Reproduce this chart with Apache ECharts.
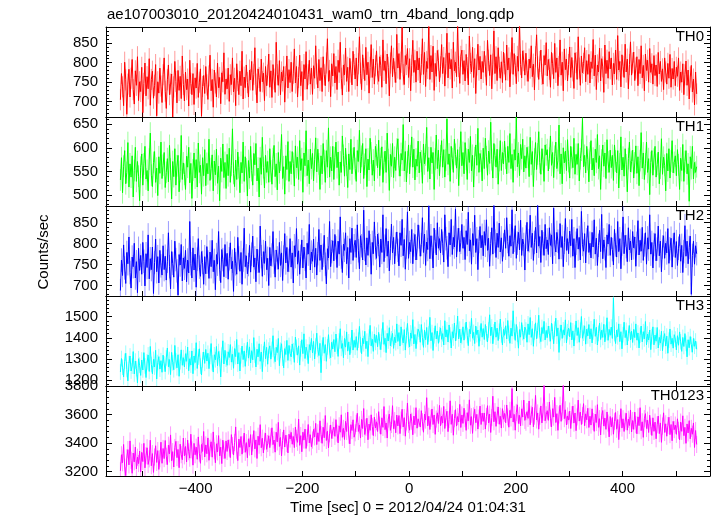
<!DOCTYPE html>
<html><head><meta charset="utf-8">
<script src="https://cdn.jsdelivr.net/npm/echarts@6/dist/echarts.min.js"></script>
<style>html,body{margin:0;padding:0;background:#fff}#c{width:717px;height:516px}</style>
</head><body><div id="c"></div>
<script>
const TITLE = 'ae107003010_20120424010431_wam0_trn_4band_long.qdp';
const X_NAME = 'Time [sec] 0 = 2012/04/24 01:04:31';
const Y_NAME = 'Counts/sec';
const PANEL_NAMES = ['TH0', 'TH1', 'TH2', 'TH3', 'TH0123'];
const T_START = -541;
const BIN = 2;

const TH0 = [
705,772,738,690,801,756,668,745,783,712,760,808,731,694,779,742,815,703,751,726,
788,672,747,799,715,764,733,810,691,757,778,709,742,795,664,751,722,786,740,698,
769,812,727,683,756,794,718,745,771,661,738,803,752,697,780,729,765,708,817,744,
702,776,731,758,689,806,747,718,772,693,761,735,798,711,750,784,663,739,767,721,
790,743,706,766,819,728,757,686,781,748,712,799,736,762,695,774,751,825,719,758,
733,786,701,769,744,812,725,760,690,797,754,718,778,741,829,707,763,736,794,749,
712,781,756,803,729,770,838,745,697,784,762,726,809,751,773,703,790,741,768,822,
737,779,711,795,758,724,852,769,742,805,718,776,753,790,699,764,817,735,782,749,
801,726,773,835,748,790,712,762,819,741,777,703,795,758,828,732,769,806,745,786,
719,792,760,843,771,735,808,754,787,726,815,769,741,799,861,752,780,713,797,766,
823,748,790,731,806,775,852,760,717,794,769,837,752,788,726,811,776,743,829,795,
758,812,740,797,866,773,731,820,785,754,839,769,801,722,788,846,762,809,745,792,
830,771,752,815,793,737,858,780,804,746,822,788,715,799,843,764,811,776,749,872,
786,823,757,801,890,769,744,818,795,836,762,810,728,793,857,775,806,750,829,781,
812,748,795,861,770,826,739,803,785,898,757,818,776,842,729,798,765,831,806,751,
789,846,772,813,740,797,875,761,825,784,808,735,852,779,801,764,894,790,747,816,
832,770,805,753,821,787,743,868,798,776,839,762,810,721,794,847,781,816,758,803,
775,829,791,742,857,806,767,820,733,796,881,772,815,754,838,788,760,802,749,827,
797,755,845,781,812,738,799,864,770,823,792,746,816,778,901,795,761,830,805,768,
824,779,752,809,786,843,764,796,730,815,871,789,757,803,832,770,745,818,794,851,
766,808,783,737,826,797,759,849,775,812,741,790,858,768,801,728,835,782,809,753,
795,840,762,813,779,734,825,800,757,866,786,742,817,774,798,838,751,805,770,821,
748,802,785,859,766,819,731,794,776,837,753,810,789,724,845,772,806,760,828,784,
812,743,798,771,832,757,869,781,803,738,820,791,762,847,776,809,733,795,853,768,
799,827,754,786,815,741,808,772,843,761,793,728,822,780,806,750,836,775,797,745,
818,767,794,739,826,771,803,752,784,731,812,776,745,798,760,821,737,785,758,803,
741,788,765,812,729,776,750,797,718,769,804,742,781,707,763,793,725,758,692,776,
720
];
const TH1 = [
532,579,505,561,594,524,548,611,517,566,538,583,496,552,601,529,571,540,488,559,
587,521,566,603,534,552,509,576,631,542,518,569,592,527,557,499,581,546,612,535,
563,590,516,548,577,528,605,555,492,571,539,598,521,562,584,507,550,626,533,568,
544,512,582,559,601,526,567,493,553,589,536,575,517,610,548,563,502,579,541,596,
520,567,545,618,531,556,585,509,572,543,597,525,561,488,578,550,608,537,569,514,
586,541,599,527,563,640,546,518,574,533,591,558,505,569,547,612,529,581,555,498,
573,536,603,552,521,588,564,609,530,557,496,579,544,622,558,515,584,548,571,527,
598,551,523,577,605,539,566,511,590,547,574,628,535,560,502,583,554,613,529,571,
545,592,567,519,604,558,580,533,615,552,577,506,589,562,636,541,574,524,597,556,
588,530,575,621,549,597,566,512,583,545,609,573,527,594,559,642,538,580,551,603,
533,579,612,558,591,521,570,548,625,584,540,599,563,516,587,554,618,545,577,601,
556,529,594,571,637,547,582,609,535,565,598,518,576,553,620,589,542,574,530,603,
585,558,616,541,577,602,527,569,593,548,631,575,510,586,561,609,537,580,552,597,
619,563,540,588,574,649,551,592,528,570,606,545,583,623,559,597,532,576,561,614,
547,591,572,525,608,566,585,643,550,579,534,601,568,590,512,576,627,556,595,541,
583,615,559,596,538,574,661,565,587,529,603,577,548,618,586,557,596,520,579,634,
562,590,545,611,576,533,597,569,624,551,584,517,579,606,563,641,548,588,572,530,
599,556,620,581,542,593,567,654,575,536,609,584,559,597,523,573,615,552,590,566,
614,578,545,603,569,630,556,586,527,596,574,665,560,589,541,607,577,618,549,583,
557,601,580,539,622,565,592,518,576,611,554,587,634,569,544,598,575,529,606,585,
596,551,578,625,563,590,537,582,612,556,573,648,545,587,524,600,568,593,552,617,
571,536,603,579,558,620,544,586,565,609,530,577,595,662,560,584,547,603,575,528,
589,615,553,578,541,597,569,628,556,583,512,574,606,561,589,535,617,570,548,595,
558,584,531,606,572,547,594,515,566,623,553,580,540,598,564,507,577,612,549,571,
595,536,568,604,546,581,520,573,632,557,589,533,566,612,548,577,501,569,594,542,
576,603,538,565,591,524,557,619,544,580,563,509,588,551,598,536,572,615,547,569,
583,541,596,564,512,578,552,607,529,571,594,545,566,487,581,556,603,534,569,548,
560
];
const TH2 = [
688,761,724,797,742,705,779,752,816,731,694,768,745,801,718,757,683,789,736,772,
727,803,758,699,776,743,821,716,764,738,792,681,755,811,733,769,706,784,747,725,
795,738,770,713,758,826,745,692,781,753,720,806,762,735,677,774,749,798,711,766,
741,784,709,761,730,853,752,718,790,737,775,696,763,812,744,722,781,755,703,769,
728,793,756,717,780,745,808,733,760,690,774,751,829,739,707,786,762,721,798,746,
777,715,764,802,740,758,686,789,752,727,815,766,734,779,703,761,837,745,771,728,
750,796,732,775,818,744,766,709,787,758,731,842,769,722,781,753,806,738,765,700,
791,747,773,829,756,720,785,766,739,803,748,778,712,768,824,754,791,733,760,812,
744,778,706,795,769,836,751,783,727,770,809,742,792,763,718,801,775,846,737,780,
758,811,744,789,725,776,834,760,797,738,772,820,751,704,788,766,853,745,781,807,
759,822,790,743,806,775,864,768,731,799,784,826,752,791,718,812,779,837,760,795,
808,767,845,783,740,819,795,761,880,786,749,814,772,831,795,727,803,776,852,790,
765,823,798,744,811,779,869,757,794,836,770,806,735,789,847,778,815,752,799,828,
784,747,826,796,858,771,810,739,792,876,765,803,781,834,752,797,822,761,789,845,
816,770,798,862,779,823,748,804,786,891,764,819,791,742,837,805,773,850,789,812,
778,834,801,756,869,812,790,745,826,797,858,774,815,792,883,768,809,837,781,803,
846,789,815,762,831,798,875,783,809,751,824,796,868,779,812,738,805,841,790,820,
771,829,796,857,784,813,746,800,838,775,892,806,767,825,791,849,780,814,758,797,
833,789,862,805,770,819,794,881,776,808,843,765,801,827,785,856,772,811,798,737,
816,851,782,807,868,791,825,760,803,839,778,896,794,817,755,832,800,772,846,788,
809,774,838,796,821,752,885,799,780,827,806,763,848,791,817,745,803,860,784,812,
776,830,795,858,770,812,743,801,836,787,815,761,877,798,782,824,754,809,843,779,
801,766,827,792,857,775,813,748,796,832,781,870,764,809,788,743,821,799,846,772,
815,786,749,834,797,768,853,781,812,740,799,864,776,820,793,757,838,785,806,761,
829,790,816,746,801,855,773,808,782,839,760,797,826,751,814,787,869,775,803,742,
798,824,759,787,842,771,806,733,792,819,765,801,778,836,753,788,813,744,797,826,
767,805,748,789,822,758,796,731,781,843,770,806,752,791,818,679,772,806,751,795,
776
];
const TH3 = [
1238,1302,1261,1215,1289,1327,1250,1196,1278,1314,1243,1266,1335,1229,1290,1254,1187,1301,1270,1222,
1295,1248,1330,1267,1212,1286,1319,1241,1359,1274,1230,1298,1262,1341,1205,1283,1311,1252,1292,1237,
1318,1276,1240,1305,1352,1263,1297,1226,1331,1282,1249,1364,1291,1258,1320,1218,1287,1343,1270,1306,
1262,1325,1289,1356,1244,1301,1271,1338,1230,1314,1283,1377,1255,1309,1348,1266,1224,1296,1333,1279,
1345,1290,1327,1254,1312,1373,1281,1238,1320,1296,1359,1268,1335,1302,1215,1318,1386,1276,1341,1299,
1270,1334,1307,1368,1285,1322,1256,1349,1311,1392,1276,1330,1243,1315,1361,1297,1338,1265,1326,1379,
1304,1357,1281,1339,1296,1401,1318,1262,1346,1310,1372,1289,1333,1240,1324,1381,1301,1355,1275,1342,
1362,1299,1345,1410,1316,1287,1355,1330,1397,1268,1341,1372,1304,1258,1349,1321,1388,1293,1364,1326,
1310,1371,1339,1284,1403,1355,1318,1362,1271,1348,1391,1325,1419,1302,1356,1333,1278,1368,1342,1397,
1329,1383,1300,1361,1422,1345,1316,1374,1235,1352,1402,1327,1368,1289,1357,1415,1338,1306,1379,1347,
1392,1334,1418,1361,1312,1385,1443,1350,1373,1306,1397,1356,1428,1337,1381,1320,1364,1437,1342,1388,
1355,1406,1341,1389,1454,1367,1325,1398,1372,1431,1349,1384,1311,1403,1459,1362,1393,1336,1417,1378,
1412,1358,1426,1381,1344,1407,1473,1369,1398,1330,1421,1385,1448,1362,1395,1421,1350,1403,1377,1466,
1383,1425,1361,1452,1404,1376,1439,1342,1411,1468,1390,1357,1423,1398,1486,1371,1416,1349,1407,1441,
1428,1379,1463,1402,1355,1436,1391,1449,1368,1418,1497,1386,1425,1340,1410,1457,1395,1432,1374,1415,
1447,1393,1420,1366,1481,1404,1438,1380,1461,1413,1352,1429,1399,1470,1385,1423,1503,1395,1441,1376,
1406,1452,1389,1433,1475,1411,1363,1440,1419,1492,1398,1426,1373,1456,1415,1437,1360,1421,1468,1403,
1444,1392,1463,1419,1381,1437,1509,1410,1451,1372,1428,1475,1403,1446,1387,1431,1489,1414,1366,1440,
1412,1457,1395,1482,1421,1374,1446,1408,1528,1430,1388,1463,1417,1351,1439,1403,1472,1425,1394,1451,
1437,1379,1466,1415,1496,1402,1443,1360,1428,1471,1396,1434,1507,1411,1382,1449,1420,1478,1390,1435,
1401,1456,1419,1384,1469,1430,1372,1441,1493,1408,1447,1331,1425,1461,1397,1438,1413,1485,1376,1429,
1446,1405,1472,1390,1433,1361,1425,1480,1411,1448,1379,1436,1501,1398,1422,1457,1370,1441,1409,1463,
1395,1443,1376,1428,1488,1407,1450,1366,1421,1470,1392,1436,1402,1464,1381,1425,1495,1388,1440,1412,
1451,1397,1589,1420,1373,1437,1405,1466,1382,1429,1348,1415,1474,1401,1435,1366,1422,1458,1390,1431,
1378,1440,1401,1466,1389,1423,1352,1412,1456,1381,1429,1395,1477,1367,1418,1390,1437,1344,1406,1452,
1367,1413,1384,1449,1352,1402,1375,1431,1339,1396,1420,1361,1408,1327,1389,1442,1370,1398,1351,1415,
1394,1343,1410,1365,1428,1381,1336,1402,1359,1420,1374,1310,1391,1353,1406,1368,1332,1397,1360,1385,
1346
];
const TH0123 = [
3205,3318,3262,3390,3231,3172,3296,3354,3247,3415,3279,3188,3330,3268,3372,3219,3301,3256,3344,3198,
3335,3270,3398,3226,3311,3367,3250,3289,3420,3241,3326,3194,3302,3381,3264,3347,3215,3290,3406,3258,
3362,3291,3418,3307,3249,3385,3324,3457,3276,3340,3232,3369,3412,3298,3355,3227,3392,3318,3283,3435,
3310,3376,3267,3421,3339,3294,3462,3352,3245,3398,3318,3371,3286,3443,3329,3258,3390,3341,3481,3302,
3387,3325,3436,3279,3364,3409,3301,3478,3346,3262,3395,3338,3452,3310,3371,3256,3420,3349,3292,3415,
3341,3422,3365,3298,3459,3382,3316,3404,3513,3350,3277,3428,3369,3446,3322,3391,3470,3335,3403,3297,
3430,3372,3459,3316,3401,3487,3359,3422,3292,3448,3385,3529,3367,3434,3331,3413,3470,3356,3397,3451,
3368,3443,3507,3389,3421,3336,3476,3408,3545,3376,3439,3310,3418,3492,3372,3455,3397,3331,3462,3428,
3475,3392,3446,3368,3512,3433,3405,3568,3384,3452,3339,3476,3421,3498,3362,3437,3530,3401,3458,3374,
3421,3496,3443,3538,3389,3472,3411,3556,3460,3398,3511,3437,3593,3418,3483,3366,3465,3527,3432,3489,
3512,3447,3564,3469,3401,3521,3476,3598,3440,3503,3425,3552,3481,3617,3456,3394,3529,3488,3563,3441,
3472,3538,3609,3481,3527,3435,3566,3502,3642,3460,3511,3574,3423,3533,3489,3598,3517,3452,3581,3506,
3549,3481,3620,3526,3462,3577,3510,3656,3494,3541,3435,3568,3603,3489,3530,3662,3501,3557,3472,3596,
3520,3593,3466,3561,3637,3512,3578,3448,3549,3681,3531,3490,3604,3553,3458,3589,3527,3648,3504,3570,
3583,3512,3627,3549,3476,3603,3561,3718,3520,3588,3495,3574,3639,3530,3597,3461,3568,3612,3537,3664,
3521,3589,3540,3657,3502,3578,3623,3480,3564,3696,3531,3602,3455,3571,3634,3519,3586,3548,3671,3509,
3597,3538,3644,3571,3489,3613,3556,3703,3525,3585,3468,3590,3637,3543,3601,3498,3575,3659,3530,3610,
3552,3611,3498,3586,3662,3541,3603,3474,3579,3728,3549,3620,3517,3596,3653,3532,3588,3505,3641,3567,
3608,3542,3667,3583,3511,3629,3576,3782,3548,3601,3490,3615,3668,3537,3594,3520,3640,3582,3701,3559,
3546,3620,3573,3695,3528,3602,3651,3514,3589,3734,3562,3611,3497,3588,3660,3541,3617,3806,3556,3598,
3627,3559,3688,3574,3513,3641,3582,3720,3544,3606,3489,3597,3665,3552,3619,3808,3571,3633,3527,3590,
3561,3624,3502,3598,3659,3540,3611,3487,3583,3701,3554,3617,3530,3592,3676,3521,3605,3563,3644,3509,
3588,3526,3640,3551,3482,3603,3544,3669,3510,3571,3457,3592,3628,3519,3575,3496,3618,3540,3443,3586,
3513,3579,3462,3552,3614,3497,3565,3424,3538,3641,3505,3570,3481,3553,3609,3490,3567,3523,3632,3478,
3558,3496,3617,3529,3465,3584,3522,3648,3487,3549,3440,3571,3606,3502,3560,3474,3595,3518,3453,3577,
3482,3547,3430,3528,3589,3466,3541,3405,3519,3612,3474,3535,3448,3523,3581,3459,3530,3416,3552,3494,
3526,3461,3570,3489,3423,3547,3482,3591,3452,3510,3398,3534,3471,3557,3430,3503,3462,3541,3369,3488,
3390
];
// half-length of the error bars per panel (counts/sec)
const ERRORS = [27, 23, 28, 37, 60];

const SERIES_VALUES = [TH0, TH1, TH2, TH3, TH0123];
const Y_MIN = [661, 477, 675, 1172, 3169];
const Y_MAX = [891, 665, 890, 1598, 3800];
const Y_STEP = [50, 50, 50, 100, 200];
const X_MIN = -568, X_MAX = 564;

const COLORS = ['#ff0000', '#00ff00', '#0000ff', '#00ffff', '#ff00ff'];
const BAND = ['rgba(255,0,0,0.4)', 'rgba(0,255,0,0.4)', 'rgba(0,0,255,0.4)', 'rgba(0,255,255,0.4)', 'rgba(255,0,255,0.4)'];
const GRID_TOP = [27, 117, 206, 296, 386];
const GRID_H = [90, 89, 90, 90, 90];
const FONT = '"Liberation Sans", Arial, Helvetica, sans-serif';

const chart = echarts.init(document.getElementById('c'), null, {renderer: 'canvas'});

const grids = [], xAxes = [], yAxes = [], series = [], graphics = [];

function fmtX(v) {
  if (v % 200 !== 0) return '';
  return v < 0 ? '\u2212' + (-v) : String(v);
}

for (let i = 0; i < 5; i++) {
  grids.push({left: 106, right: 7, top: GRID_TOP[i], height: GRID_H[i], containLabel: false});
  const last = i === 4;
  ['bottom', 'top'].forEach((pos) => {
    const lab = last && pos === 'bottom';
    xAxes.push({
      type: 'value', gridIndex: i, position: pos, min: X_MIN, max: X_MAX,
      splitNumber: 10, minInterval: 100, maxInterval: 100,
      axisLine: {show: true, onZero: false, lineStyle: {color: '#000', width: 1}},
      axisTick: {show: true, inside: true, length: 5, lineStyle: {color: '#000', width: 1}},
      axisLabel: {show: lab, margin: 5, fontSize: 15, color: '#000', fontFamily: FONT,
        showMinLabel: true, showMaxLabel: true, formatter: fmtX},
      splitLine: {show: false},
      name: lab ? X_NAME : '', nameLocation: 'middle', nameGap: 24,
      nameTextStyle: {fontSize: 15, color: '#000', fontFamily: FONT}
    });
  });
  const step = Y_STEP[i];
  ['left', 'right'].forEach((pos) => {
    const lab = pos === 'left';
    yAxes.push({
      type: 'value', gridIndex: i, position: pos, min: Y_MIN[i], max: Y_MAX[i],
      splitNumber: 4, minInterval: step, maxInterval: step,
      axisLine: {show: true, onZero: false, lineStyle: {color: '#000', width: 1}},
      axisTick: {show: true, inside: true, length: 6, lineStyle: {color: '#000', width: 1}},
      minorTick: {show: true, splitNumber: 5, length: 3, lineStyle: {color: '#000', width: 1}},
      axisLabel: {show: lab, margin: 8, fontSize: 15, color: '#000', fontFamily: FONT,
        showMinLabel: true, showMaxLabel: true, hideOverlap: false,
        formatter: (v) => (Math.abs(v % step) < 1e-6 ? String(v) : '')},
      splitLine: {show: false}
    });
  });
  const vals = SERIES_VALUES[i];
  const pts = vals.map((v, k) => [T_START + k * BIN, v]);
  const err = ERRORS[i];
  const band = BAND[i];
  series.push({
    type: 'custom', xAxisIndex: 2 * i, yAxisIndex: 2 * i, data: pts, clip: true, z: 2,
    animation: false, silent: true,
    renderItem: (params, api) => {
      const x = api.value(0), y = api.value(1);
      const p1 = api.coord([x, y - err]);
      const p2 = api.coord([x, y + err]);
      return {type: 'line', shape: {x1: p1[0], y1: p1[1], x2: p2[0], y2: p2[1]},
        style: {stroke: band, lineWidth: 1}};
    }
  });
  series.push({
    type: 'line', xAxisIndex: 2 * i, yAxisIndex: 2 * i, data: pts, clip: true, z: 3,
    showSymbol: false, symbol: 'none', animation: false, silent: true,
    lineStyle: {color: COLORS[i], width: 1}
  });
  graphics.push({
    type: 'text', x: 704, y: GRID_TOP[i] + 2, z: 10,
    style: {text: PANEL_NAMES[i], fill: '#000', font: '15px ' + FONT, textAlign: 'right', textVerticalAlign: 'top'}
  });
}

graphics.push({
  type: 'text', x: 107, y: 7, z: 10,
  style: {text: TITLE, fill: '#000', font: '15px ' + FONT, textAlign: 'left', textVerticalAlign: 'top'}
});
graphics.push({
  type: 'text', x: 44, y: 252, rotation: Math.PI / 2, z: 10,
  style: {text: Y_NAME, fill: '#000', font: '15px ' + FONT, textAlign: 'center', textVerticalAlign: 'middle'}
});

chart.setOption({
  animation: false,
  backgroundColor: '#fff',
  grid: grids, xAxis: xAxes, yAxis: yAxes, series: series, graphic: graphics
});
</script>
</body></html>
